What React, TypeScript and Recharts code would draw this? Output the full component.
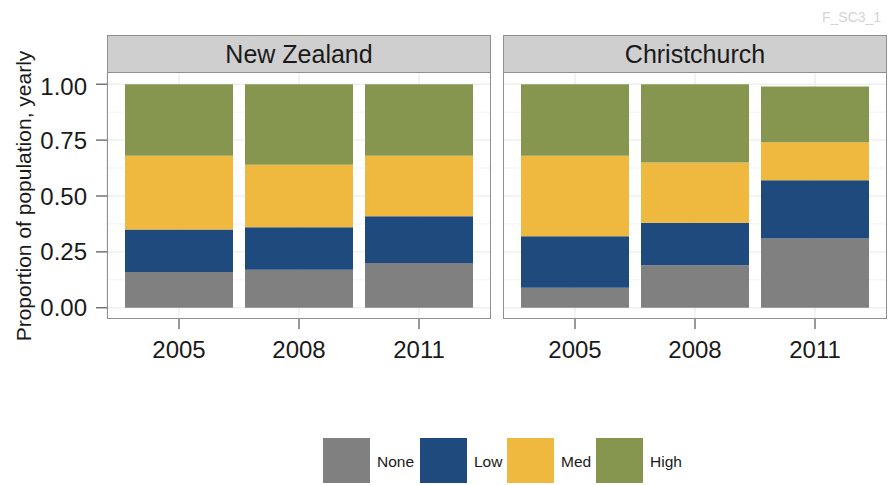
import { BarChart, Bar, XAxis, YAxis, CartesianGrid } from 'recharts';

const years = ['2005', '2008', '2011'];
const levels = ['None', 'Low', 'Med', 'High'];
const COLORS = ['#808080', '#1e4a7e', '#efb940', '#87964f'];

// segment shares, bottom to top
const nzNone = [0.16, 0.17, 0.2];
const nzLow = [0.19, 0.19, 0.21];
const nzMed = [0.33, 0.28, 0.27];
const nzHigh = [0.32, 0.36, 0.32];

const chNone = [0.09, 0.19, 0.31];
const chLow = [0.23, 0.19, 0.26];
const chMed = [0.36, 0.27, 0.17];
const chHigh = [0.32, 0.35, 0.25];

const yTicks = [0, 0.25, 0.5, 0.75, 1];
const yMinor = [0.125, 0.375, 0.625, 0.875];

const FONT = '"Liberation Sans", Arial, Helvetica, sans-serif';

function rows(none: number[], low: number[], med: number[], high: number[]) {
  return years.map((year, i) => ({ year, None: none[i], Low: low[i], Med: med[i], High: high[i] }));
}

const nzData = rows(nzNone, nzLow, nzMed, nzHigh);
const chData = rows(chNone, chLow, chMed, chHigh);

const PLOT_H = 246;

function Panel({ data, showY }: { data: any[]; showY: boolean }) {
  return (
    <BarChart
      width={showY ? 491 : 384}
      height={PLOT_H + 60}
      data={data}
      margin={{ top: 0, right: 0, bottom: 0, left: 0 }}
      barSize={108}
    >
      <CartesianGrid horizontalValues={yMinor} vertical={false} stroke="#f3f3f3" />
      <CartesianGrid horizontalValues={yTicks} stroke="#e8e8e8" />
      <XAxis
        dataKey="year"
        padding={{ left: 12, right: 12 }}
        height={60}
        axisLine={false}
        tickSize={10}
        tickMargin={12}
        tickLine={{ stroke: '#333' }}
        tick={{ fontSize: 24, fill: '#1a1a1a' }}
      />
      <YAxis
        hide={!showY}
        width={107}
        type="number"
        domain={[-0.05, 1.05]}
        ticks={yTicks}
        allowDataOverflow
        axisLine={false}
        tickSize={11}
        tickMargin={9}
        tickLine={{ stroke: '#333' }}
        tick={{ fontSize: 24, fill: '#1a1a1a' }}
        tickFormatter={(v: number) => v.toFixed(2)}
      />
      {levels.map((lv, i) => (
        <Bar key={lv} dataKey={lv} stackId="a" fill={COLORS[i]} isAnimationActive={false} />
      ))}
    </BarChart>
  );
}

function Strip({ left, label }: { left: number; label: string }) {
  return (
    <>
      <div
        style={{
          position: 'absolute', left, top: 35, width: 384, height: 38, boxSizing: 'border-box',
          background: '#cfcfcf', border: '1px solid #8f8f8f', textAlign: 'center',
          fontSize: 25, lineHeight: '36px', color: '#1a1a1a',
        }}
      >
        {label}
      </div>
      <div
        style={{
          position: 'absolute', left, top: 72, width: 384, height: PLOT_H + 1, boxSizing: 'border-box',
          border: '1px solid #8f8f8f', pointerEvents: 'none',
        }}
      />
    </>
  );
}

const legendPos = [323, 420, 507, 596];

export default function App() {
  return (
    <div style={{ position: 'absolute', left: 0, top: 0, width: 888, height: 485, background: '#fff', fontFamily: FONT, overflow: 'hidden' }}>
      <div style={{ position: 'absolute', left: 822, top: 9, fontSize: 14, color: '#d4d4d4' }}>F_SC3_1</div>

      <div style={{ position: 'absolute', left: 0, top: 73 }}>
        <Panel data={nzData} showY />
      </div>
      <div style={{ position: 'absolute', left: 503, top: 73 }}>
        <Panel data={chData} showY={false} />
      </div>

      <Strip left={107} label="New Zealand" />
      <Strip left={503} label="Christchurch" />

      <div
        style={{
          position: 'absolute', left: 24, top: 196, transform: 'translate(-50%, -50%) rotate(-90deg)',
          whiteSpace: 'nowrap', fontSize: 21, color: '#1a1a1a',
        }}
      >
        Proportion of population, yearly
      </div>

      {levels.map((lv, i) => (
        <div key={lv}>
          <div style={{ position: 'absolute', left: legendPos[i], top: 438, width: 47, height: 45, background: COLORS[i] }} />
          <div style={{ position: 'absolute', left: legendPos[i] + 54, top: 453, fontSize: 15.5, color: '#1a1a1a' }}>{lv}</div>
        </div>
      ))}
    </div>
  );
}
